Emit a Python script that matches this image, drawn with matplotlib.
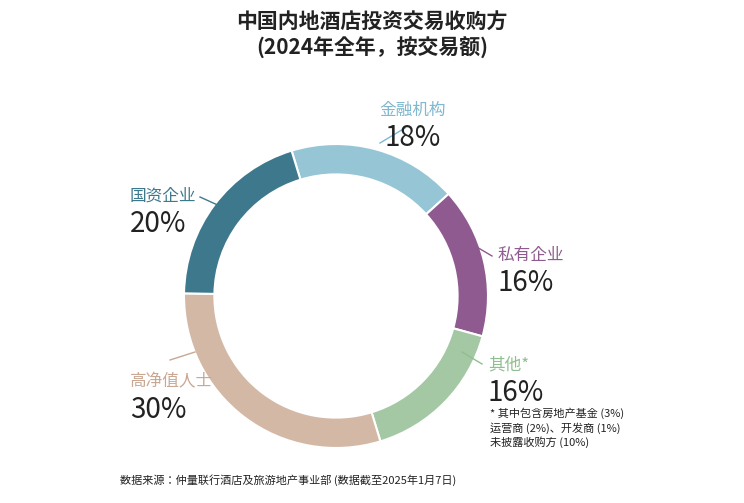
import matplotlib.pyplot as plt
import numpy as np

plt.rcParams['font.family'] = ['Noto Sans CJK SC', 'Noto Sans CJK JP', 'DejaVu Sans']

labels = ['金融机构', '私有企业', '其他', '高净值人士', '国资企业']
shares = [18, 16, 16, 30, 20]
colors = ['#96c6d6', '#8f5a90', '#a3c8a3', '#d4b8a6', '#3d788c']
label_colors = ['#7fb8cf', '#8f5a90', '#8fbf8f', '#c9a893', '#3d788c']

fig = plt.figure(figsize=(7.44, 5.03), dpi=100)
W, H = 744, 503
cx, cy, r = 336, 296, 190
ax = fig.add_axes([(cx - r) / W, 1 - (cy + r) / H, 2 * r / W, 2 * r / H])
ax.pie(shares, colors=colors, startangle=107, counterclock=False,
       wedgeprops=dict(width=0.2, edgecolor='white', linewidth=1.5))
ax.set_aspect('equal')

# label positions in figure pixels (name, pct)
pos = [(413, 110, 'center'), (498, 255, 'left'), (488, 365, 'left'),
       (130, 382, 'left'), (130, 196, 'left')]
lines = [((405, 128), (380, 143)), ((492, 256), (470, 243)),
         ((482, 364), (462, 352)), ((170, 360), (195, 352)), ((200, 197), (222, 207))]
for (x, y, ha), name, pct, c, ln in zip(pos, labels, shares, label_colors, lines):
    fig.text(x / W, 1 - y / H, name + ('*' if name == '其他' else ''), color=c,
             fontsize=12, ha=ha, va='center')
    fig.text(x / W, 1 - (y + 28) / H, f'{pct}%', color='#222222',
             fontsize=20, ha=ha, va='center')
    (x0, y0), (x1, y1) = ln
    fig.add_artist(plt.Line2D([x0 / W, x1 / W], [1 - y0 / H, 1 - y1 / H],
                              color=c, lw=1))

fig.text(490 / W, 1 - 428 / H, '* 其中包含房地产基金 (3%)\n运营商 (2%)、开发商 (1%)\n未披露收购方 (10%)',
         fontsize=8, style='italic', color='#222222', va='center', linespacing=1.3)

fig.text(0.5, 1 - 35 / H, '中国内地酒店投资交易收购方\n(2024年全年，按交易额)',
         ha='center', va='center', fontsize=15, fontweight='bold', color='#222222',
         linespacing=1.3)
fig.text(120 / W, 1 - 480 / H, '数据来源：仲量联行酒店及旅游地产事业部 (数据截至2025年1月7日)',
         fontsize=8, style='italic', color='#222222', va='center')

fig.savefig('out.png', dpi=100)
